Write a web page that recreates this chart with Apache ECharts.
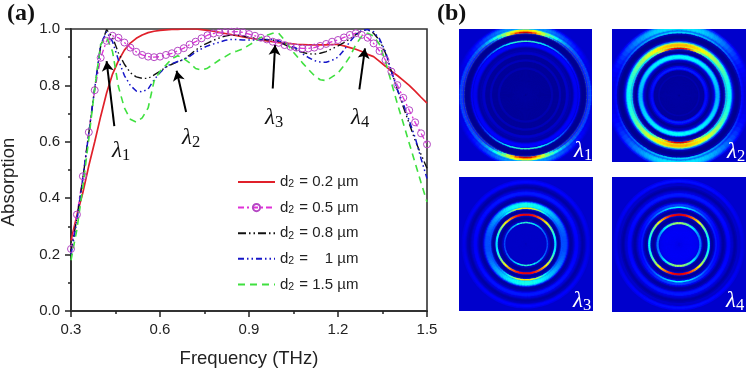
<!DOCTYPE html>
<html><head><meta charset="utf-8">
<style>html,body{margin:0;padding:0;background:#fff}#c{width:749px;height:369px}</style>
<script src="https://cdn.jsdelivr.net/npm/echarts@6/dist/echarts.min.js"></script>
</head><body><div id="c"></div>
<script>
const freq = [.30,.32,.34,.36,.38,.40,.42,.44,.46,.48,
.50,.52,.54,.56,.58,.60,.62,.64,.66,.68,
.70,.72,.74,.76,.78,.80,.82,.84,.86,.88,
.90,.92,.94,.96,.98,1.00,1.02,1.04,1.06,1.08,
1.10,1.12,1.14,1.16,1.18,1.20,1.22,1.24,1.26,1.28,
1.30,1.32,1.34,1.36,1.38,1.40,1.42,1.44,1.46,1.48,1.50];
const d02 = [.25,.34,.42,.515,.60,.69,.773,.84,.888,.925,
.95,.967,.979,.987,.992,.995,.997,.999,.999,1,
1,1,.998,.995,.992,.988,.984,.98,.976,.972,
.968,.965,.961,.958,.955,.952,.95,.948,.946,.945,
.944,.944,.944,.944,.945,.945,.94,.934,.928,.92,
.91,.902,.885,.868,.85,.835,.818,.80,.78,.758,.737];
const d05 = [.22,.342,.478,.634,.783,.898,.958,.976,.969,.952,
.934,.919,.908,.902,.900,.902,.908,.914,.923,.932,
.945,.955,.967,.978,.984,.987,.989,.990,.991,.988,
.982,.976,.969,.963,.955,.951,.943,.937,.934,.931,
.931,.934,.940,.947,.955,.961,.970,.979,.985,.979,
.969,.949,.922,.890,.849,.801,.756,.712,.669,.630,.591];
const d08 = [.21,.33,.47,.63,.79,.94,.998,.97,.915,.875,
.845,.83,.825,.825,.837,.85,.865,.875,.884,.892,
.908,.925,.94,.95,.96,.968,.975,.979,.978,.975,
.97,.967,.964,.962,.961,.955,.945,.935,.925,.917,
.912,.911,.914,.92,.93,.94,.952,.965,.98,.993,
.998,.985,.96,.915,.85,.785,.724,.665,.605,.555,.506];
const d10 = [.20,.32,.47,.63,.79,.945,.99,.955,.89,.835,
.80,.78,.777,.787,.82,.845,.866,.877,.885,.892,
.903,.918,.93,.94,.947,.953,.96,.963,.963,.961,
.961,.961,.962,.963,.963,.958,.95,.94,.931,.912,
.899,.888,.883,.882,.889,.90,.925,.955,.98,.995,
.998,.99,.965,.92,.85,.785,.735,.675,.615,.54,.47];
const d15 = [.18,.29,.44,.61,.79,.945,.97,.92,.795,.72,
.68,.67,.685,.72,.815,.85,.872,.895,.905,.895,
.88,.86,.854,.861,.875,.89,.902,.915,.922,.93,
.943,.955,.97,.978,.985,.985,.96,.93,.905,.88,
.857,.835,.82,.817,.83,.844,.87,.902,.945,.974,
.985,.975,.945,.885,.81,.735,.666,.595,.525,.455,.387];
const legendNames = ['d2 = 0.2 µm','d2 = 0.5 µm','d2 = 0.8 µm','d2 = \u00a0\u00a0\u00a01 µm','d2 = 1.5 µm'];
const arrow1 = [[.446,.656],[.42,.886]];
const arrow2 = [[.688,.706],[.656,.852]];
const arrow3 = [[.98,.789],[.988,.943]];
const arrow4 = [[1.272,.786],[1.291,.931]];
// field-map bands: radius, half width, value at top/bottom, value at sides, neighbour value, angular sharpness
const panel1 = [
 [.30,.36,.025,.025,.03,1],[.40,.015,.05,.05,.03,1],[.52,.015,.06,.06,.03,1],[.63,.02,.075,.075,.04,1],
 [.70,.03,.035,.035,.07,1],[.765,.04,.13,.11,.05,1],[.815,.015,.45,.12,.08,4],
 [1.0,.085,.30,.085,.07,3],[.96,.035,.5,.12,.1,3],[.875,.048,.015,.015,.07,1],[.96,.024,.72,.15,.35,7],[.94,.012,.93,.15,.6,16]];
const panel2 = [
 [.20,.24,.03,.03,.03,1],[.30,.012,.05,.05,.03,1],[.41,.028,.16,.13,.04,1],[.48,.03,.02,.02,.1,1],
 [.58,.045,.38,.3,.05,1],[.65,.025,.015,.015,.1,1],[.755,.05,.7,.38,.05,2],[.705,.012,.92,.32,.6,10],
 [1.0,.09,.36,.09,.07,2],[.94,.03,.35,.13,.07,2],[.875,.045,.015,.015,.07,1]];
const panel3 = [
 [.15,.16,.07,.07,.07,1],[.32,.012,.42,.2,.07,3],[.385,.03,.02,.02,.08,1],[.44,.014,.92,.35,.2,2],
 [.49,.025,.02,.02,.1,1],[.585,.055,.4,.2,.05,2],[.535,.012,.65,.2,.3,6],[.675,.03,.03,.03,.08,1],
 [.76,.04,.15,.12,.05,1],[.85,.03,.035,.035,.08,1],[.93,.03,.13,.1,.07,1]];
const panel4 = [
 [.15,.16,.12,.12,.1,1],[.32,.014,.55,.25,.12,3],[.385,.03,.02,.02,.08,1],[.445,.014,.93,.38,.2,2.5],
 [.50,.025,.02,.02,.1,1],[.58,.045,.2,.12,.05,2],[.555,.012,.38,.15,.1,4],[.665,.03,.03,.03,.08,1],
 [.745,.04,.15,.12,.05,1],[.84,.03,.035,.035,.08,1],[.95,.03,.14,.09,.07,1]];
const panels = [panel1,panel2,panel3,panel4];
const panelBoxes = [[459,29,133,132],[612,29,134,133],[459,177,134,134],[612,177,134,135]];
const panelTags = ['1','2','3','4'];
const tagPos = [[574,139],[727,140],[573,289],[726,289]];
const lambdaPos = [[112,139],[182,126],[265,106],[351,106]];

const SANS='"Liberation Sans"', SERIF='"Liberation Serif"';
function clamp(v){return Math.max(0,Math.min(1,v));}
function jet(v){
  const f=k=>Math.round(255*clamp(1.5-Math.abs(4*v-k)));
  return 'rgb('+f(3)+','+f(2)+','+f(1)+')';
}
function renderBand(params,api){
  const r=api.value(0),hw=api.value(1),top=api.value(2),side=api.value(3),base=api.value(4),p=api.value(5);
  const c=api.coord([0,0]),u=api.size([1,1])[0];
  const children=[],seg=90;
  const n=Math.max(2,Math.ceil(hw*u*1.2*2));
  for(let j=0;j<=n;j++){
    const d=(j/n)*2-1,rad=(r+d*hw*1.2)*u;
    if(rad<=0)continue;
    const prof=Math.exp(-3*d*d*d*d);
    for(let s=0;s<seg;s++){
      const a0=s/seg*2*Math.PI,a1=(s+1.15)/seg*2*Math.PI,m=(a0+a1)/2;
      const V=side+(top-side)*Math.pow(Math.abs(Math.sin(m)),p);
      children.push({type:'arc',shape:{cx:c[0],cy:c[1],r:rad,startAngle:a0,endAngle:a1,clockwise:true},
        style:{stroke:jet(base+(V-base)*prof),lineWidth:1.5,fill:'none',opacity:Math.min(1,prof*2.5)},silent:true});
    }
  }
  return {type:'group',children};
}
const chartGrid={left:71,top:29,width:356,height:282,outerBoundsMode:'none',show:true,borderColor:'#333',borderWidth:1.6,backgroundColor:'transparent'};
const grids=[chartGrid],xAxes=[{
  type:'value',gridIndex:0,min:.3,max:1.5,interval:.3,name:'Frequency (THz)',nameLocation:'middle',nameGap:38,
  nameTextStyle:{fontFamily:SANS,fontSize:18.5,color:'#222'},
  axisLine:{lineStyle:{color:'#333',width:2}},axisTick:{length:6,lineStyle:{color:'#222',width:1.5}},
  minorTick:{show:true,splitNumber:2,length:3,lineStyle:{color:'#222',width:1.5}},splitLine:{show:false},
  axisLabel:{fontFamily:SANS,fontSize:15,color:'#222',margin:11,formatter:v=>v.toFixed(1),showMaxLabel:true,showMinLabel:true}
}],yAxes=[{
  type:'value',gridIndex:0,min:0,max:1,interval:.2,name:'Absorption',nameLocation:'middle',nameGap:53,
  nameTextStyle:{fontFamily:SANS,fontSize:18.5,color:'#222',padding:[0,24,0,0]},
  axisLine:{lineStyle:{color:'#333',width:2}},axisTick:{length:6,lineStyle:{color:'#222',width:1.5}},
  minorTick:{show:true,splitNumber:2,length:3,lineStyle:{color:'#222',width:1.5}},splitLine:{show:false},
  axisLabel:{fontFamily:SANS,fontSize:15,color:'#222',margin:11,formatter:v=>v.toFixed(1)}
}];
const pair=a=>freq.map((x,i)=>[x,a[i]]);
const arrowLine=a=>[{coord:a[0]},{coord:a[1]}];
const NOFILL='rgba(0,0,0,0)';
const series=[
 {name:legendNames[0],type:'line',data:pair(d02),symbol:'none',lineStyle:{color:'#e0202a',width:1.7},itemStyle:{color:NOFILL}},
 {name:legendNames[1],type:'line',data:pair(d05),symbol:'circle',symbolSize:7,lineStyle:{color:'#e030d8',width:1.3,type:[6,3,2,3]},itemStyle:{color:'rgba(255,255,255,0)',borderColor:'#b548c4',borderWidth:1}},
 {name:legendNames[2],type:'line',data:pair(d08),symbol:'none',lineStyle:{color:'#111',width:1.4,type:[8,3,1.5,3,1.5,3]},itemStyle:{color:NOFILL}},
 {name:legendNames[3],type:'line',data:pair(d10),symbol:'none',lineStyle:{color:'#1616c8',width:1.5,type:[6,3,1.5,3,1.5,3]},itemStyle:{color:NOFILL}},
 {name:legendNames[4],type:'line',data:pair(d15),symbol:'none',lineStyle:{color:'#3fe03f',width:1.6,type:[7,5]},itemStyle:{color:NOFILL},
  markLine:{silent:true,animation:false,symbol:['none','arrow'],symbolSize:[9,10],precision:3,label:{show:false},
   lineStyle:{color:'#000',width:2,type:'solid'},emphasis:{disabled:true},
   data:[arrowLine(arrow1),arrowLine(arrow2),arrowLine(arrow3),arrowLine(arrow4)]}}
];
panels.forEach((rows,i)=>{
  const b=panelBoxes[i];
  grids.push({left:b[0],top:b[1],width:b[2],height:b[3],outerBoundsMode:'none',show:true,borderWidth:0,backgroundColor:jet(.075)});
  const ax={type:'value',gridIndex:i+1,min:-1,max:1,show:false};
  xAxes.push({...ax});yAxes.push({...ax});
  series.push({type:'custom',xAxisIndex:i+1,yAxisIndex:i+1,clip:true,silent:true,animation:false,
    encode:{x:[],y:[]},data:rows,renderItem:renderBand});
});
const richLambda=(col,size)=>({l:{fontFamily:SERIF,fontStyle:'italic',fontSize:size,fill:col,color:col},
  s:{fontFamily:SERIF,fontSize:size*.72,fill:col,color:col,padding:[size*.45,0,0,0],verticalAlign:'bottom'}});
const graphics=[
 {type:'text',left:7,top:2,z:50,style:{text:'(a)',font:'bold 24px '+SERIF,fill:'#111'}},
 {type:'text',left:437,top:2,z:50,style:{text:'(b)',font:'bold 24px '+SERIF,fill:'#111'}}];
lambdaPos.forEach((p,i)=>graphics.push({type:'text',left:p[0],top:p[1],z:50,
  style:{text:'{l|λ}{s|'+panelTags[i]+'}',rich:richLambda('#111',23),fill:'#111'}}));
tagPos.forEach((p,i)=>graphics.push({type:'text',left:p[0],top:p[1],z:50,
  style:{text:'{l|λ}{s|'+panelTags[i]+'}',rich:richLambda('#fff',23),fill:'#fff'}}));
const chart=echarts.init(document.getElementById('c'),null,{renderer:'canvas'});
chart.setOption({
  animation:false,backgroundColor:'#fff',
  grid:grids,xAxis:xAxes,yAxis:yAxes,series,graphic:graphics,
  legend:{data:legendNames,orient:'vertical',left:237,top:171,padding:0,itemWidth:37,itemHeight:9,itemGap:6.6,selectedMode:false,
    formatter:n=>'{a|d}{s|2}{a|'+n.slice(2)+'}',
    textStyle:{fontFamily:SANS,fontSize:15,color:'#222',
      rich:{a:{fontFamily:SANS,fontSize:15,color:'#222',lineHeight:16},s:{fontFamily:SANS,fontSize:10.5,color:'#222',verticalAlign:'bottom',padding:[8,1,0,0],lineHeight:16}}}}
});
</script></body></html>
